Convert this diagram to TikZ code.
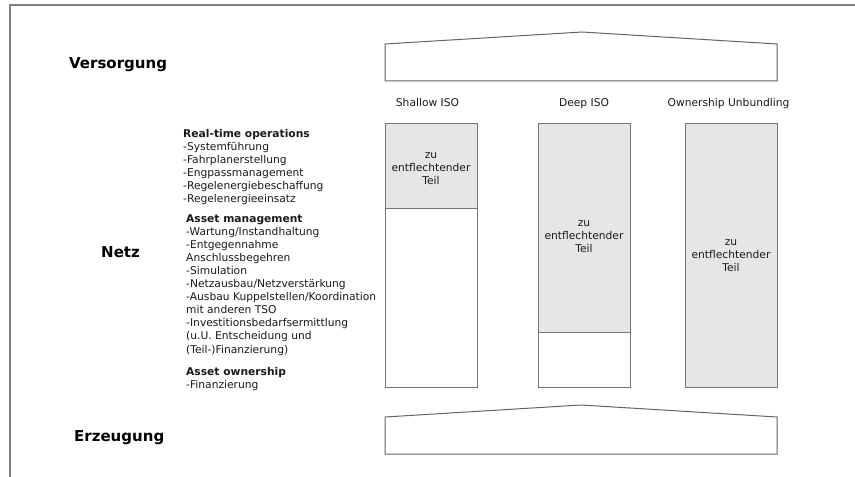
\documentclass[tikz,border=0pt]{standalone}
\usepackage{fontspec}
\setmainfont{DejaVu Sans}
\definecolor{framegray}{HTML}{808080}
\definecolor{edgegray}{HTML}{767676}
\definecolor{partfill}{HTML}{E8E5E5}
\definecolor{ink}{HTML}{1A1A1A}

% three-line label "zu / entflechtender / Teil", centred at x, first baseline at y
\newcommand{\partlabel}[3]{%
  \node[ctr] (#1a) at (#2,#3) {zu};
  \node[ctr] (#1b) at (#2,#3+13) {entflechtender};
  \node[ctr] (#1c) at (#2,#3+26) {Teil};
}

\begin{document}
\begin{tikzpicture}[x=1bp,y=-1bp,
  txt/.style={inner sep=0pt, anchor=base west, text=ink,
    font=\fontsize{10.7bp}{13bp}\selectfont},
  sub/.style={txt, font=\fontsize{10.7bp}{13bp}\selectfont\bfseries},
  hd/.style={txt, text=black, font=\fontsize{15bp}{18bp}\selectfont\bfseries},
  ctr/.style={txt, anchor=base},
  colbox/.style={draw=edgegray, line width=1bp},
  part/.style={colbox, fill=partfill},
  house/.style={draw=edgegray!85!black, line width=1bp, line join=miter}
]
\useasboundingbox (0,0) rectangle (855,477);
\fill[white] (0,0) rectangle (855,477);

% frame along the top and left edges
\draw[framegray, line width=1.5bp] (855,5) -- (10,5) -- (10,477);

% sector headings
\node[hd] (versorgung) at (69,68.3) {Versorgung};
\node[hd] (netz) at (101,257.3) {Netz};
\node[hd] (erzeugung) at (74,441.7) {Erzeugung};

% task list of the grid operator
\node[sub] (rt) at (183,138) {Real-time operations};
\foreach \t [count=\i] in {-Systemführung, -Fahrplanerstellung,
    -Engpassmanagement, -Regelenergiebeschaffung, -Regelenergieeinsatz}
  \node[txt] (rt\i) at (183,138+13*\i) {\t};

\node[sub] (am) at (186,223) {Asset management};
\foreach \t [count=\i] in {-Wartung/Instandhaltung, -Entgegennahme,
    Anschlussbegehren, -Simulation, -Netzausbau/Netzverstärkung,
    -Ausbau Kuppelstellen/Koordination, mit anderen TSO,
    -Investitionsbedarfsermittlung, {(u.U. Entscheidung und},
    {(Teil-)Finanzierung)}}
  \node[txt] (am\i) at (186,223+13*\i) {\t};

\node[sub] (ao) at (186,375.5) {Asset ownership};
\node[txt] (ao1) at (186,388) {-Finanzierung};

% model names
\node[ctr] (lshallow) at (427.5,107) {Shallow ISO};
\node[ctr] (ldeep) at (584,107) {Deep ISO};
\node[ctr] (lown) at (728.5,107) {Ownership Unbundling};

% supply roof
\draw[house] (385,81) -- (385,44) -- (582,32) -- (777,44) -- (777,81) -- cycle;

% columns
\draw[part] (385,124) rectangle (477,209);
\draw[colbox] (385,209) rectangle (477,387);
\draw[part] (538,124) rectangle (630,332);
\draw[colbox] (538,332) rectangle (630,387);
\draw[part] (685,124) rectangle (777,387);

\partlabel{shallow}{431}{158.5}
\partlabel{deep}{584}{227}
\partlabel{own}{731}{245.5}

% generation base
\draw[house] (385,454) -- (385,417) -- (581,405) -- (777,417) -- (777,454) -- cycle;
\end{tikzpicture}
\end{document}
